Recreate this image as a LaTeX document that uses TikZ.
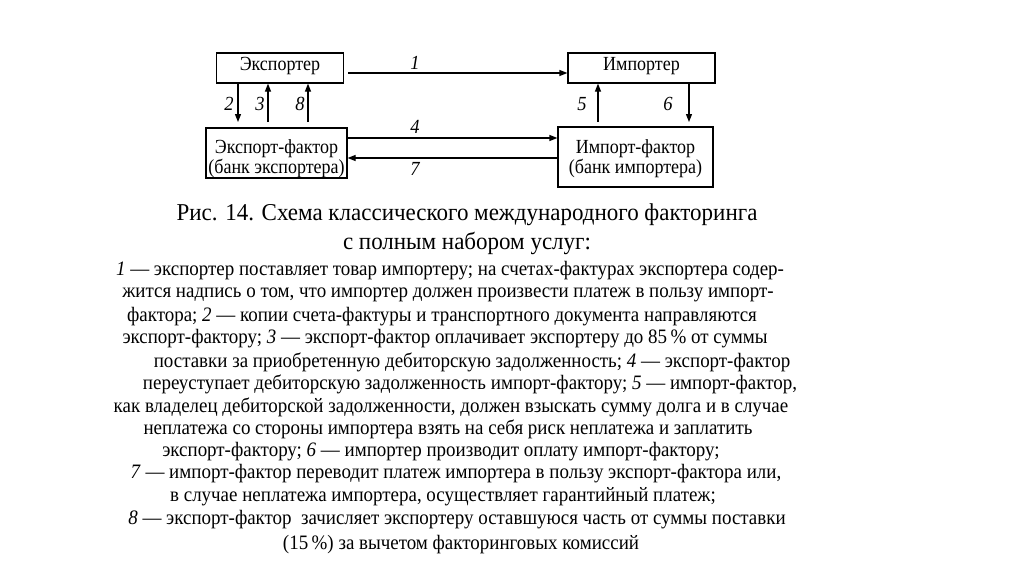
\documentclass[tikz,border=0pt]{standalone}
\usepackage{fontspec}
\setmainfont{Liberation Serif}
\newfontfamily\condfont[FakeStretch=0.925]{Liberation Serif}
\newfontfamily\boxfont[FakeStretch=0.9]{Liberation Serif}
\newfontfamily\capfont[FakeStretch=0.95]{Liberation Serif}
\usetikzlibrary{arrows.meta}
\begin{document}
\begin{tikzpicture}[x=1pt,y=-1pt,
  box/.style={draw,line width=1.2pt,inner sep=0pt,font=\boxfont\fontsize{20}{20}\selectfont,align=center},
  arr/.style={line width=1.2pt,-{Triangle[length=8pt,width=6pt]}},
  lab/.style={font=\condfont\fontsize{20}{22}\selectfont\itshape,inner sep=0pt},
  captext/.style={font=\capfont\fontsize{24.2}{26}\selectfont,inner sep=0pt},
  body/.style={font=\condfont\fontsize{20.5}{24}\selectfont,inner sep=0pt}]
\useasboundingbox (0,0) rectangle (1024,574);
% boxes
\node[box,minimum width=127pt,minimum height=30pt,text height=14pt,text depth=9pt] (exp) at (280,68) {Экспортер};
\node[box,minimum width=147pt,minimum height=30pt,text height=14pt,text depth=9pt] (imp) at (641.5,68) {Импортер};
\node[box,minimum width=141pt,minimum height=50pt,text height=40pt,text depth=0pt] (ef) at (276.5,153) {Экспорт-фактор\\(банк экспортера)};
\node[box,minimum width=155pt,minimum height=60pt,text height=32pt,text depth=0pt] (if) at (635.5,157) {Импорт-фактор\\(банк импортера)};
% arrow 1
\coordinate (a1s) at (348,73); \coordinate (a1e) at (imp.west|-a1s);
\draw[arr] (a1s) -- (a1e);
\node[lab] (l1) at (415,63) {1};
% arrows 2, 3, 8
\coordinate (a2e) at (238,122);
\draw[arr] (exp.south-|a2e) -- (a2e);
\coordinate (a3s) at (268,122);
\draw[arr] (a3s) -- (exp.south-|a3s);
\coordinate (a8s) at (308,122);
\draw[arr] (a8s) -- (exp.south-|a8s);
\node[lab] (l2) at (229,104) {2};
\node[lab] (l3) at (260,104) {3};
\node[lab] (l8) at (300,104) {8};
% arrows 5, 6
\coordinate (a5s) at (598,122);
\draw[arr] (a5s) -- (imp.south-|a5s);
\coordinate (a6e) at (689,122);
\draw[arr] (imp.south-|a6e) -- (a6e);
\node[lab] (l5) at (582,104) {5};
\node[lab] (l6) at (668,104) {6};
% arrows 4, 7
\coordinate (a4) at (ef.east|-0,138);
\draw[arr] (a4) -- (if.west|-a4);
\coordinate (a7) at (if.west|-0,158);
\draw[arr] (a7) -- (ef.east|-a7);
\node[lab] (l4) at (415,127) {4};
\node[lab] (l7) at (415,169) {7};
% caption
\node[captext] (c1) at (467,215) {Рис. 14. Схема классического международного факторинга};
\node[captext] (c2) at (467,243) {с полным набором услуг:};
% body
\node[body] (b1) at (450,271) {\textit{1} — экспортер поставляет товар импортеру; на счетах-фактурах экспортера содер-};
\node[body] (b2) at (448,295) {жится надпись о том, что импортер должен произвести платеж в пользу импорт-};
\node[body] (b3) at (442,317) {фактора; \textit{2} — копии счета-фактуры и транспортного документа направляются};
\node[body] (b4) at (445,339) {экспорт-фактору; \textit{3} — экспорт-фактор оплачивает экспортеру до 85\,\% от суммы};
\node[body] (b5) at (472,362) {поставки за приобретенную дебиторскую задолженность; \textit{4} — экспорт-фактор};
\node[body] (b6) at (470,384) {переуступает дебиторскую задолженность импорт-фактору; \textit{5} — импорт-фактор,};
\node[body] (b7) at (451,407) {как владелец дебиторской задолженности, должен взыскать сумму долга и в случае};
\node[body] (b8) at (448,429) {неплатежа со стороны импортера взять на себя риск неплатежа и заплатить};
\node[body] (b9) at (441,452) {экспорт-фактору; \textit{6} — импортер производит оплату импорт-фактору;};
\node[body] (b10) at (456,474) {\textit{7} — импорт-фактор переводит платеж импортера в пользу экспорт-фактора или,};
\node[body] (b11) at (443,497) {в случае неплатежа импортера, осуществляет гарантийный платеж;};
\node[body] (b12) at (457,520) {\textit{8} — экспорт-фактор\ \ зачисляет экспортеру оставшуюся часть от суммы поставки};
\node[body] (b13) at (461,545) {(15\,\%) за вычетом факторинговых комиссий};
\end{tikzpicture}
\end{document}
